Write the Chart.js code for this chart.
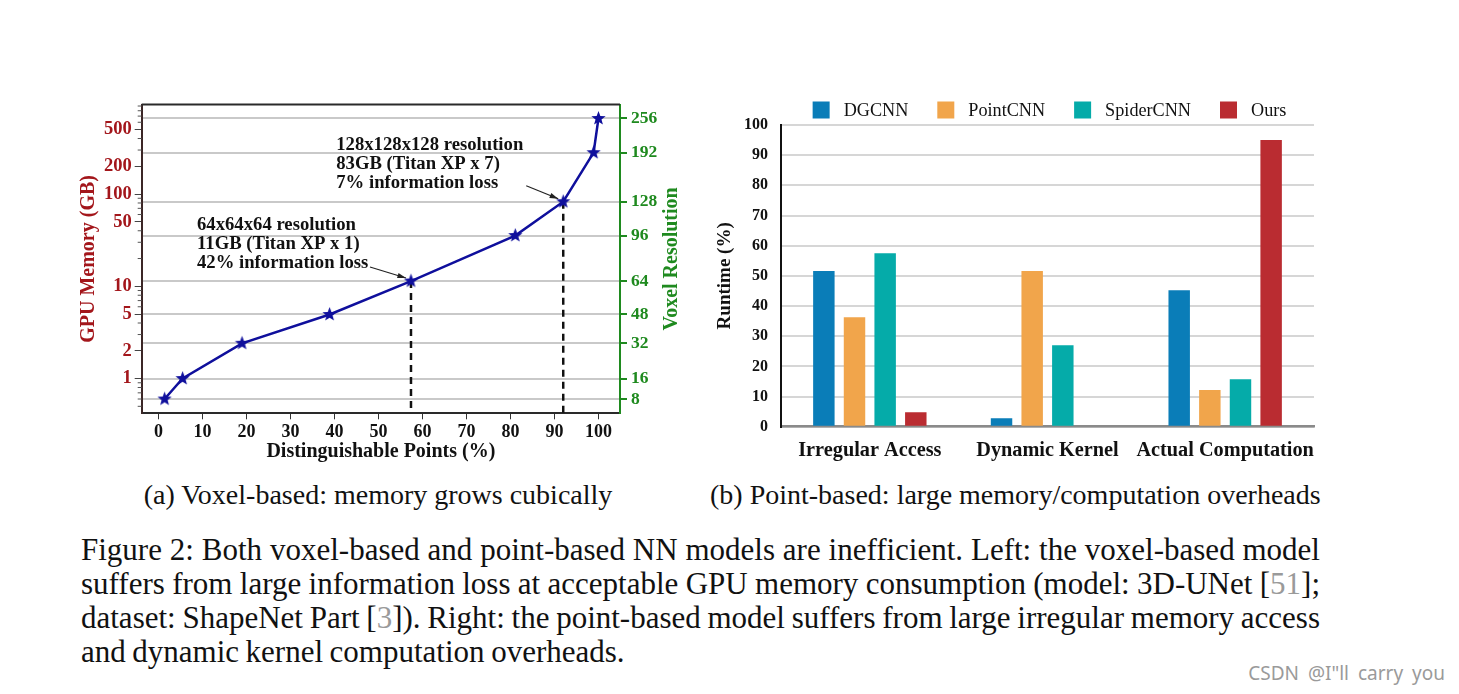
<!DOCTYPE html>
<html>
<head>
<meta charset="utf-8">
<script src="https://cdn.jsdelivr.net/npm/chart.js@4/dist/chart.umd.min.js"></script>
<style>
  body { margin: 0; background: #fff; width: 1459px; height: 694px; overflow: hidden; position: relative; }
  .box { position: absolute; }
  .cap { position: absolute; font-family: "Liberation Serif", serif; color: #111; white-space: nowrap; }
  .sub { font-size: 28px; line-height: 30px; text-align: center; }
  .fig { left: 81px; width: 1239px; font-size: 31px; line-height: 34px; word-spacing: -1.2px; text-align: justify; text-align-last: justify; }
  .ref { color: #9a9a9a; }
  .wm { position: absolute; right: 14px; top: 660px; font-family: "Noto Sans", sans-serif; font-size: 19px; word-spacing: 4px; color: #9a9a9a; }
</style>
</head>
<body>
<div class="box" style="left:60px;top:90px;width:640px;height:380px"><canvas id="voxel" width="640" height="380"></canvas></div>
<div class="box" style="left:700px;top:90px;width:630px;height:380px"><canvas id="runtime" width="630" height="380"></canvas></div>

<div class="cap sub" style="left:78px;top:480px;width:600px">(a) Voxel-based: memory grows cubically</div>
<div class="cap sub" style="left:710px;top:480px;width:600px">(b) Point-based: large memory/computation overheads</div>

<div class="cap fig" style="top:533px">Figure 2: Both voxel-based and point-based NN models are inefficient. Left: the voxel-based model</div>
<div class="cap fig" style="top:567px">suffers from large information loss at acceptable GPU memory consumption (model: 3D-UNet [<span class="ref">51</span>];</div>
<div class="cap fig" style="top:601px">dataset: ShapeNet Part [<span class="ref">3</span>]). Right: the point-based model suffers from large irregular memory access</div>
<div class="cap fig" style="top:635px;text-align-last:left">and dynamic kernel computation overheads.</div>

<div class="wm">CSDN @I"ll carry you</div>

<script>
// ---- left chart data (voxel based) ----
const distinguishable = [1.4, 5.5, 19.0, 38.9, 57.4, 81.1, 92.0, 98.9, 100];
const memoryGB = [0.6, 1.0, 2.41, 4.95, 11.4, 35.5, 82.6, 281, 660];
const resolutions = [8, 16, 32, 48, 64, 96, 128, 192, 256];
const xTicks = [0, 10, 20, 30, 40, 50, 60, 70, 80, 90, 100];
const memTicks = [1, 2, 5, 10, 50, 100, 200, 500];
// indices of the two highlighted resolutions (64^3 and 128^3)
const marked = [4, 6];

// ---- right chart data (point based) ----
const stages = ["Irregular Access", "Dynamic Kernel", "Actual Computation"];
const dgcnn = [51.6, 2.8, 45.2];
const pointcnn = [36.3, 51.6, 12.2];
const spidercnn = [57.5, 27.0, 15.7];
const ours = [4.8, 0, 95.0];

const SERIF = '"Liberation Serif", "Times New Roman", serif';
const RED = "#a3161b";
const GREEN = "#1f8a1f";
const NAVY = "#0f0f9c";

/**
 * filled 5 point star, chart.js "star" is only an asterisk
 */
function makeStar(r, color) {
  let c = document.createElement("canvas");
  c.width = c.height = Math.ceil(r * 2 + 2);
  let g = c.getContext("2d");
  let cx = c.width / 2, cy = c.height / 2;
  g.beginPath();
  for (let i = 0; i < 10; i++) {
    let rad = i % 2 === 0 ? r : r * 0.42;
    let a = -Math.PI / 2 + (i * Math.PI) / 5;
    g.lineTo(cx + rad * Math.cos(a), cy + rad * Math.sin(a));
  }
  g.closePath();
  g.fillStyle = color;
  g.fill();
  return c;
}

// small log minor ticks + top frame + right title + arrows/notes
const voxelExtras = {
  id: "voxelExtras",
  afterDraw(chart) {
    let ctx = chart.ctx;
    let area = chart.chartArea;
    let y = chart.scales.y;
    let x = chart.scales.x;
    ctx.save();

    // top frame line
    ctx.strokeStyle = "#2a2a2a";
    ctx.lineWidth = 2;
    ctx.beginPath();
    ctx.moveTo(area.left, area.top);
    ctx.lineTo(area.right, area.top);
    ctx.stroke();

    // minor ticks on the log axis
    ctx.strokeStyle = "#555";
    ctx.lineWidth = 1;
    for (let dec = 0.1; dec <= 100; dec *= 10) {
      for (let m = 1; m <= 9; m++) {
        let v = dec * m;
        if (v < y.min || v > y.max) continue;
        if (memTicks.some((t) => Math.abs(t - v) / t < 1e-6)) continue;
        let py = y.getPixelForValue(v);
        ctx.beginPath();
        ctx.moveTo(area.left - 4, py);
        ctx.lineTo(area.left, py);
        ctx.stroke();
      }
    }

    // right axis title, reads bottom to top
    ctx.fillStyle = GREEN;
    ctx.font = "bold 20px " + SERIF;
    ctx.textAlign = "center";
    ctx.textBaseline = "middle";
    ctx.translate(area.right + 52, (area.top + area.bottom) / 2);
    ctx.rotate(-Math.PI / 2);
    ctx.fillText("Voxel Resolution", 0, 0);
    ctx.restore();

    // notes with arrows
    let notes = [
      { idx: 4, lines: ["64x64x64 resolution", "11GB (Titan XP x 1)", "42% information loss"], tx: -214, ty: -56, ax: -41, ay: -14 },
      { idx: 6, lines: ["128x128x128 resolution", "83GB (Titan XP x 7)", "7% information loss"], tx: -227, ty: -57, ax: -37, ay: -16 },
    ];
    ctx.save();
    ctx.font = "bold 18.7px " + SERIF;
    ctx.fillStyle = "#111";
    ctx.textAlign = "left";
    ctx.textBaseline = "middle";
    notes.forEach((n) => {
      let px = x.getPixelForValue(distinguishable[n.idx]);
      let py = y.getPixelForValue(memoryGB[n.idx]);
      n.lines.forEach((t, i) => ctx.fillText(t, px + n.tx, py + n.ty + i * 19));
      // arrow
      let sx = px + n.ax, sy = py + n.ay;
      let ex = px - 5, ey = py - 3;
      let ang = Math.atan2(ey - sy, ex - sx);
      ctx.strokeStyle = "#222";
      ctx.lineWidth = 1.2;
      ctx.beginPath();
      ctx.moveTo(sx, sy);
      ctx.lineTo(ex, ey);
      ctx.stroke();
      ctx.beginPath();
      ctx.moveTo(ex, ey);
      ctx.lineTo(ex - 9 * Math.cos(ang - 0.3), ey - 9 * Math.sin(ang - 0.3));
      ctx.lineTo(ex - 9 * Math.cos(ang + 0.3), ey - 9 * Math.sin(ang + 0.3));
      ctx.closePath();
      ctx.fillStyle = "#222";
      ctx.fill();
      ctx.fillStyle = "#111";
    });
    ctx.restore();
  },
};

function createVoxelChart(canvas) {
  let yMin = 0.42, yMax = 935;
  let line = distinguishable.map((d, i) => ({ x: d, y: memoryGB[i] }));
  let dashed = marked.map((i) => ({
    label: "drop" + i,
    data: [
      { x: distinguishable[i], y: memoryGB[i] },
      { x: distinguishable[i], y: yMin },
    ],
    borderColor: "#111",
    borderWidth: 2.5,
    borderDash: [7, 5],
    pointRadius: 0,
    order: 2,
  }));

  new Chart(canvas, {
    type: "line",
    data: {
      datasets: [
        {
          label: "GPU memory",
          data: line,
          borderColor: NAVY,
          borderWidth: 2.5,
          pointStyle: makeStar(7.5, NAVY),
          pointRadius: 8,
          order: 1,
        },
        ...dashed,
      ],
    },
    options: {
      animation: false,
      responsive: false,
      layout: { padding: { top: 13.3, left: 0, right: 0, bottom: 0 } },
      plugins: { legend: { display: false }, tooltip: { enabled: false } },
      scales: {
        x: {
          type: "linear",
          min: -3.8,
          max: 104.9,
          afterBuildTicks: (s) => { s.ticks = xTicks.map((v) => ({ value: v })); },
          afterFit: (s) => { s.height = 56.7; },
          grid: { drawOnChartArea: false, tickLength: 6, tickColor: "#333" },
          border: { color: "#2a2a2a", width: 2 },
          ticks: { color: "#111", font: { family: SERIF, size: 18, weight: "bold" }, padding: 2, maxRotation: 0 },
          title: { display: true, text: "Distinguishable Points (%)", color: "#111", font: { family: SERIF, size: 20, weight: "bold" }, padding: { top: 0, bottom: 6 } },
        },
        y: {
          type: "logarithmic",
          position: "left",
          min: yMin,
          max: yMax,
          afterBuildTicks: (s) => { s.ticks = memTicks.map((v) => ({ value: v })); },
          afterFit: (s) => { s.width = 81.7; },
          grid: { drawOnChartArea: false, tickLength: 7, tickColor: "#444" },
          border: { color: "#3b2626", width: 2 },
          ticks: { color: RED, font: { family: SERIF, size: 18.5, weight: "bold" }, padding: 3, callback: (v) => String(v) },
          title: { display: true, text: "GPU Memory (GB)", color: RED, font: { family: SERIF, size: 20, weight: "bold" }, padding: { top: 17 } },
        },
        y2: {
          type: "logarithmic",
          position: "right",
          min: yMin,
          max: yMax,
          afterBuildTicks: (s) => { s.ticks = memoryGB.map((v) => ({ value: v })); },
          afterFit: (s) => { s.width = 80; },
          grid: { drawOnChartArea: true, color: "#c9c9c9", lineWidth: 2, tickLength: 7, tickColor: GREEN },
          border: { color: GREEN, width: 2 },
          ticks: { color: GREEN, font: { family: SERIF, size: 17.5, weight: "bold" }, padding: 4, callback: (v, i) => String(resolutions[i]) },
        },
      },
    },
    plugins: [voxelExtras],
  });
}

// legend drawn by hand so the plot keeps its place
const runtimeLegend = {
  id: "runtimeLegend",
  afterDraw(chart) {
    let ctx = chart.ctx;
    let area = chart.chartArea;
    ctx.save();
    ctx.font = "18.2px " + SERIF;
    ctx.textBaseline = "middle";
    let items = chart.data.datasets.map((d) => ({ text: d.label, color: d.backgroundColor, w: ctx.measureText(d.label).width }));
    let box = 17, gapBox = 14, gapItem = 29;
    let total = items.reduce((a, it) => a + box + gapBox + it.w, 0) + gapItem * (items.length - 1);
    let x = (area.left + area.right) / 2 - total / 2 + 2;
    let yc = 20;
    items.forEach((it) => {
      ctx.fillStyle = it.color;
      ctx.fillRect(x, yc - box / 2, box, box);
      ctx.fillStyle = "#111";
      ctx.fillText(it.text, x + box + gapBox, yc + 1);
      x += box + gapBox + it.w + gapItem;
    });
    ctx.restore();
  },
};

function createRuntimeChart(canvas) {
  let series = [
    ["DGCNN", dgcnn, "#0a7db8"],
    ["PointCNN", pointcnn, "#f1a54b"],
    ["SpiderCNN", spidercnn, "#05aba9"],
    ["Ours", ours, "#ba2c31"],
  ];
  let data = {
    labels: stages,
    datasets: series.map((s) => ({
      label: s[0],
      data: s[1],
      backgroundColor: s[2],
      categoryPercentage: 0.69,
      barPercentage: 0.7,
    })),
  };

  new Chart(canvas, {
    type: "bar",
    data: data,
    options: {
      animation: false,
      responsive: false,
      layout: { padding: { top: 35, right: 16, left: 0, bottom: 0 } },
      plugins: { legend: { display: false }, tooltip: { enabled: false } },
      scales: {
        x: {
          afterFit: (s) => { s.height = 43.3; },
          grid: { display: false },
          border: { color: "#8a8a8a", width: 2.5 },
          ticks: { color: "#111", font: { family: SERIF, size: 20.3, weight: "bold" }, padding: 4, maxRotation: 0, autoSkip: false },
        },
        y: {
          min: 0,
          max: 100,
          afterFit: (s) => { s.width = 81; },
          grid: { color: "#d6d6d6", lineWidth: 2, drawTicks: false },
          border: { color: "#111", width: 2 },
          ticks: { stepSize: 10, color: "#111", font: { family: SERIF, size: 16, weight: "bold" }, padding: 13 },
          title: { display: true, text: "Runtime (%)", color: "#111", font: { family: SERIF, size: 19, weight: "bold" }, padding: { top: 14 } },
        },
      },
    },
    plugins: [runtimeLegend],
  });
}

createVoxelChart(document.getElementById("voxel"));
createRuntimeChart(document.getElementById("runtime"));
</script>
</body>
</html>
